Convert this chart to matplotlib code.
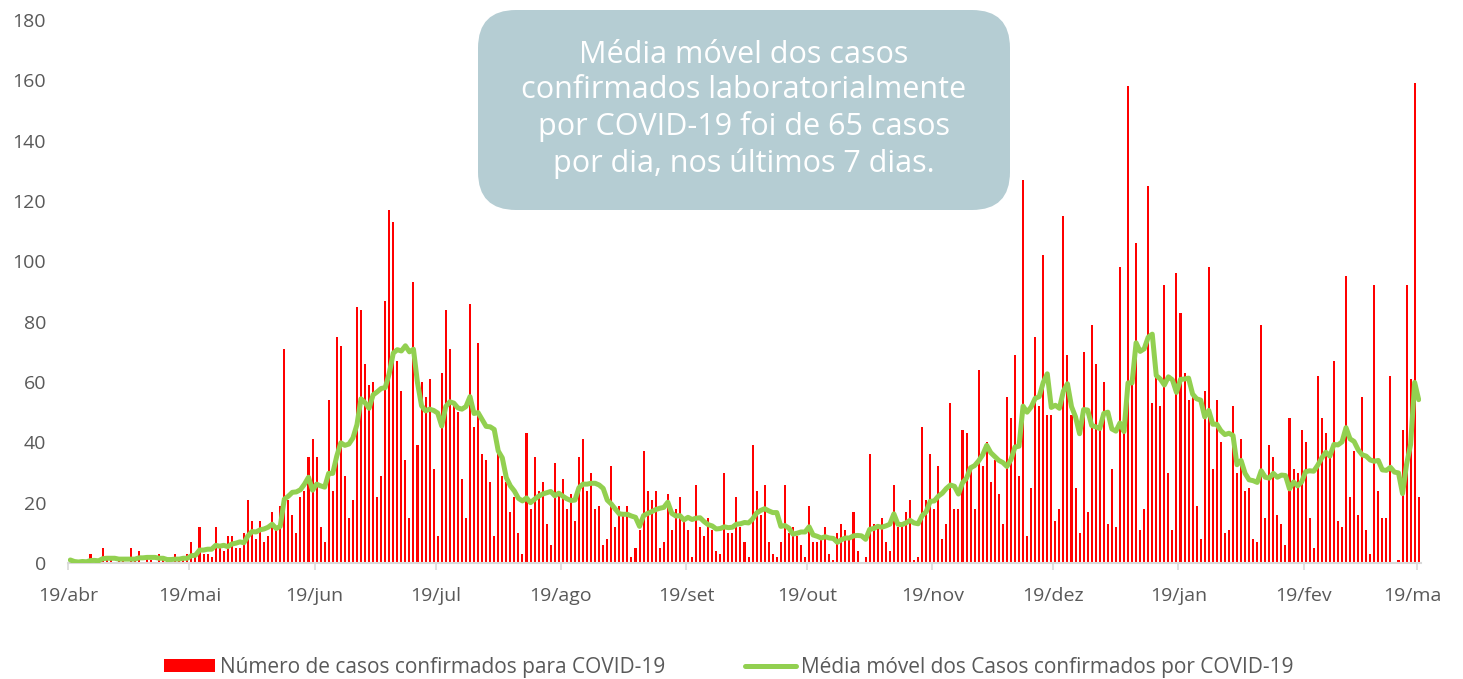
import numpy as np
import pandas as pd
import matplotlib
matplotlib.use('Agg')
import matplotlib.pyplot as plt
import matplotlib.dates as mdates
from matplotlib.patches import FancyBboxPatch
from matplotlib.transforms import Bbox, TransformedBbox

# casos diários a partir de 19/abr
inicio = '2020-04-19'
casos = [
    1, 0, 0, 1, 0, 3, 1, 0, 5, 1, 1, 0, 1, 1, 0, 5, 1, 4, 0, 2,
    1, 0, 3, 1, 1, 0, 3, 1, 2, 3, 7, 2, 12, 3, 3, 2, 12, 5, 4, 9,
    9, 5, 5, 10, 21, 14, 8, 14, 7, 9, 17, 11, 19, 71, 21, 16, 10, 22, 24, 35,
    41, 35, 12, 7, 54, 24, 75, 72, 29, 15, 21, 85, 84, 66, 59, 60, 22, 29, 87, 117,
    113, 67, 57, 34, 15, 93, 39, 60, 55, 61, 31, 9, 63, 84, 71, 52, 50, 28, 15, 86,
    45, 73, 36, 34, 27, 9, 36, 29, 27, 17, 22, 10, 3, 43, 18, 35, 24, 27, 13, 6,
    33, 24, 28, 18, 23, 14, 35, 41, 24, 30, 18, 19, 6, 8, 32, 12, 19, 17, 19, 2,
    5, 11, 37, 24, 21, 24, 5, 7, 23, 11, 18, 22, 14, 11, 2, 26, 12, 9, 15, 11,
    4, 3, 30, 10, 10, 22, 12, 7, 2, 39, 24, 16, 26, 7, 3, 2, 7, 26, 10, 12,
    9, 6, 2, 19, 7, 7, 8, 12, 3, 1, 10, 13, 11, 8, 17, 4, 0, 2, 36, 13,
    13, 15, 7, 4, 26, 12, 12, 17, 21, 1, 2, 45, 21, 36, 18, 32, 8, 13, 53, 18,
    18, 44, 43, 32, 18, 64, 32, 40, 27, 34, 23, 13, 55, 48, 69, 29, 127, 9, 25, 75,
    52, 102, 49, 49, 14, 18, 115, 69, 49, 25, 10, 70, 17, 79, 66, 45, 60, 13, 31, 12,
    98, 46, 158, 60, 106, 11, 18, 125, 53, 62, 52, 92, 30, 11, 96, 83, 63, 54, 55, 19,
    8, 57, 98, 31, 54, 40, 10, 11, 52, 30, 41, 24, 25, 8, 7, 79, 15, 39, 35, 16,
    13, 6, 48, 31, 30, 44, 40, 15, 5, 62, 48, 43, 35, 67, 14, 12, 95, 22, 37, 16,
    55, 11, 3, 92, 24, 15, 15, 62, 0, 1, 44, 92, 61, 159, 22,
]
meses = ['abr', 'mai', 'jun', 'jul', 'ago', 'set', 'out', 'nov', 'dez', 'jan', 'fev', 'mar']
y_ticks = [0, 20, 40, 60, 80, 100, 120, 140, 160, 180]

dias = pd.date_range(inicio, periods=len(casos), freq='D')
media = pd.Series(casos).rolling(7, min_periods=1).mean()
x = mdates.date2num(dias) + 0.5
x0 = mdates.date2num(pd.Timestamp(inicio))

ticks = pd.date_range(inicio, periods=len(meses), freq=pd.DateOffset(months=1))
tick_labels = ['19/' + m for m in meses]

fonte = 'Open Sans'
cinza = '#595959'

fig = plt.figure(figsize=(14.63, 6.79), dpi=100, facecolor='white')
ax = fig.add_axes([68.3 / 1463, 116 / 679, 1352.4 / 1463, 543 / 679])

barras = ax.bar(x, casos, width=0.5, color='#ff0000', zorder=2)
linha, = ax.plot(x, media, color='#92d050', linewidth=3.6, solid_joinstyle='round',
                 solid_capstyle='round', zorder=3)

ax.set_xlim(x0, x0 + 335)
ax.set_ylim(0, 180)
ax.set_yticks(y_ticks)
ax.set_xticks(mdates.date2num(ticks))
ax.set_xticklabels(tick_labels)

for s in ['top', 'right', 'left']:
    ax.spines[s].set_visible(False)
ax.spines['bottom'].set_color('#d9d9d9')
ax.spines['bottom'].set_linewidth(1.5)
ax.tick_params(axis='y', length=0, pad=16, labelsize=14, labelcolor=cinza)
ax.tick_params(axis='x', length=5, width=1.2, color='#d9d9d9', pad=12, labelsize=14, labelcolor=cinza)
for lab in ax.get_xticklabels() + ax.get_yticklabels():
    lab.set_fontfamily(fonte)

# o último rótulo fica cortado na borda da figura
clip = TransformedBbox(Bbox([[0, 0], [1443 / 1463, 1]]), fig.transFigure)
ultimo = ax.get_xticklabels()[-1]
ultimo.set_clip_box(clip)
ultimo.set_clip_on(True)

leg = fig.legend([barras, linha],
                 ['Número de casos confirmados para COVID-19',
                  'Média móvel dos Casos confirmados por COVID-19'],
                 loc='center', bbox_to_anchor=(0.498, 1 - 667 / 679), ncol=2, frameon=False,
                 handlelength=2.45, handleheight=0.58, columnspacing=3.8, handletextpad=0.25,
                 prop={'family': fonte, 'size': 15})
for t in leg.get_texts():
    t.set_color(cinza)

# caixa de texto
caixa = FancyBboxPatch((4.78, 4.69), 5.32, 2.00, boxstyle='round,pad=0,rounding_size=0.38',
                       transform=fig.dpi_scale_trans, facecolor='#b5cdd3', edgecolor='none', zorder=5)
fig.patches.append(caixa)
fig.text(7.44 / 14.63, 5.695 / 6.79,
         'Média móvel dos casos\nconfirmados laboratorialmente\npor COVID-19 foi de 65 casos\npor dia, nos últimos 7 dias.',
         ha='center', va='center', color='white', fontsize=22, family=fonte,
         linespacing=1.25, zorder=6)

fig.savefig('out.png', dpi=100, facecolor='white')
